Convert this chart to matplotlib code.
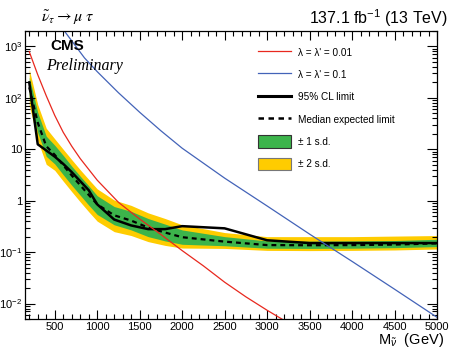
import numpy as np
import matplotlib
matplotlib.use('Agg')
import matplotlib.pyplot as plt
from matplotlib.lines import Line2D
from matplotlib.patches import Patch
from matplotlib.ticker import MultipleLocator, LogLocator, FuncFormatter, NullFormatter

plt.rcParams['font.family'] = ['Liberation Sans', 'DejaVu Sans']
plt.rcParams['mathtext.fontset'] = 'custom'
plt.rcParams['mathtext.rm'] = 'Liberation Sans'
plt.rcParams['mathtext.it'] = 'Liberation Sans:italic'

# limit curves (GeV, fb)
mass = [200, 300, 400, 500, 600, 700, 800, 900, 1000, 1200, 1400, 1600,
        1800, 2000, 2500, 3000, 3500, 4000, 4500, 5000]
observed = [200, 12.5, 9.5, 7.2, 5.2, 3.6, 2.4, 1.6, 0.85, 0.43, 0.33, 0.28,
            0.28, 0.32, 0.29, 0.17, 0.15, 0.15, 0.15, 0.15]
expected = [160, 33, 11.5, 7.8, 4.9, 3.1, 2.0, 1.3, 0.85, 0.52, 0.41, 0.30,
            0.24, 0.195, 0.16, 0.137, 0.136, 0.137, 0.14, 0.148]
green_hi = [254, 52, 18, 12.0, 7.6, 4.7, 3.0, 1.95, 1.25, 0.77, 0.62, 0.45,
            0.35, 0.27, 0.20, 0.165, 0.163, 0.165, 0.168, 0.178]
green_lo = [101, 21, 7.3, 5.2, 3.2, 2.0, 1.28, 0.82, 0.54, 0.34, 0.27, 0.20,
            0.165, 0.142, 0.133, 0.119, 0.118, 0.119, 0.122, 0.128]
yellow_hi = [358, 74, 25.7, 16.0, 10.0, 6.3, 4.0, 2.6, 1.7, 1.03, 0.81, 0.58,
             0.45, 0.34, 0.24, 0.2, 0.2, 0.2, 0.205, 0.21]
yellow_lo = [71.5, 14.7, 5.1, 3.9, 2.4, 1.5, 0.95, 0.61, 0.40, 0.25, 0.21, 0.16,
             0.135, 0.12, 0.118, 0.108, 0.107, 0.108, 0.11, 0.115]

# theory cross sections
red_mass = [200, 300, 400, 500, 600, 700, 800, 1000, 1250, 1500, 1750, 2000,
            2250, 2500, 2750, 3000, 3200]
red_xs = [794, 282, 110, 45.7, 21.4, 11.5, 6.6, 2.51, 0.93, 0.44, 0.22, 0.107,
          0.054, 0.026, 0.0135, 0.0074, 0.0047]
blue_mass = [500, 600, 850, 1000, 1250, 1500, 1750, 2000, 2500, 3000, 3500,
             4000, 4500, 5000]
blue_xs = [3550, 2140, 600, 324, 126, 52.5, 22.9, 10.5, 2.75, 0.79, 0.224,
           0.066, 0.019, 0.0054]

fig = plt.figure(figsize=(4.49, 3.48), dpi=100)
ax = fig.add_axes([25/449, 1-319/348, 412/449, 288/348])

ax.fill_between(mass, yellow_lo, yellow_hi, color='#ffcc00', lw=0)
ax.fill_between(mass, green_lo, green_hi, color='#3cb44b', lw=0)
ax.plot(mass, expected, color='k', lw=1.6, ls=(0, (2.2, 1.8)))
ax.plot(mass, observed, color='k', lw=1.8)
ax.plot(red_mass, red_xs, color='#e8281e', lw=0.9)
ax.plot(blue_mass, blue_xs, color='#4363b8', lw=0.9)

ax.set_yscale('log')
ax.set_xlim(150, 5000)
ax.set_ylim(0.005, 2000)

ax.xaxis.set_major_locator(MultipleLocator(500))
ax.xaxis.set_minor_locator(MultipleLocator(100))
ax.yaxis.set_major_locator(LogLocator(base=10))
ax.yaxis.set_minor_locator(LogLocator(base=10, subs=np.arange(2, 10)))
ax.yaxis.set_minor_formatter(NullFormatter())


def ylab(v, pos):
    if np.isclose(v, 10):
        return '10'
    if np.isclose(v, 1):
        return '1'
    return r'$10^{%d}$' % round(np.log10(v))


ax.yaxis.set_major_formatter(FuncFormatter(ylab))
ax.set_xticks([500, 1000, 1500, 2000, 2500, 3000, 3500, 4000, 4500, 5000])
ax.tick_params(which='both', direction='in', top=True, right=True,
               labelsize=8, width=0.8, pad=2)
ax.tick_params(axis='x', which='major', length=6.5)
ax.tick_params(axis='x', which='minor', length=3.5)
ax.tick_params(axis='y', which='major', length=7.5)
ax.tick_params(axis='y', which='minor', length=3.8)
for s in ax.spines.values():
    s.set_linewidth(0.9)

handles = [
    Line2D([], [], color='#e8281e', lw=0.9),
    Line2D([], [], color='#4363b8', lw=0.9),
    Line2D([], [], color='k', lw=2.2),
    Line2D([], [], color='k', lw=1.8, ls=(0, (2.2, 1.8))),
    Patch(facecolor='#3cb44b', edgecolor='#333333', lw=0.8),
    Patch(facecolor='#ffcc00', edgecolor='#777777', lw=0.8),
]
labels = ["λ = λ' = 0.01", "λ = λ' = 0.1", '95% CL limit',
          'Median expected limit', '± 1 s.d.', '± 2 s.d.']
ax.legend(handles, labels, loc='upper left', bbox_to_anchor=(0.566, 0.946),
          frameon=False, fontsize=7.2, handlelength=3.3, handleheight=1.5,
          labelspacing=1.0, handletextpad=0.7, borderpad=0, borderaxespad=0)

fig.text(50/449, 1-46/348, 'CMS', fontsize=11, fontweight='bold', va='center')
fig.text(46/449, 1-66/348, 'Preliminary', fontsize=11.5, style='italic',
         family='Liberation Serif', va='center')
fig.text(41/449, 1-18/348, r'$\tilde{\nu}_{\tau} \rightarrow \mu\ \tau$',
         fontsize=11.5, math_fontfamily='stix', va='center')
fig.text(448/449, 1-18/348, r'137.1 fb$^{-1}$ (13 TeV)', fontsize=11.5,
         ha='right', va='center')
fig.text(444/449, 1-340/348, r'M$_{\tilde{\nu}}$  (GeV)', fontsize=10.5,
         ha='right', va='center')

fig.savefig('out.png', dpi=100)
